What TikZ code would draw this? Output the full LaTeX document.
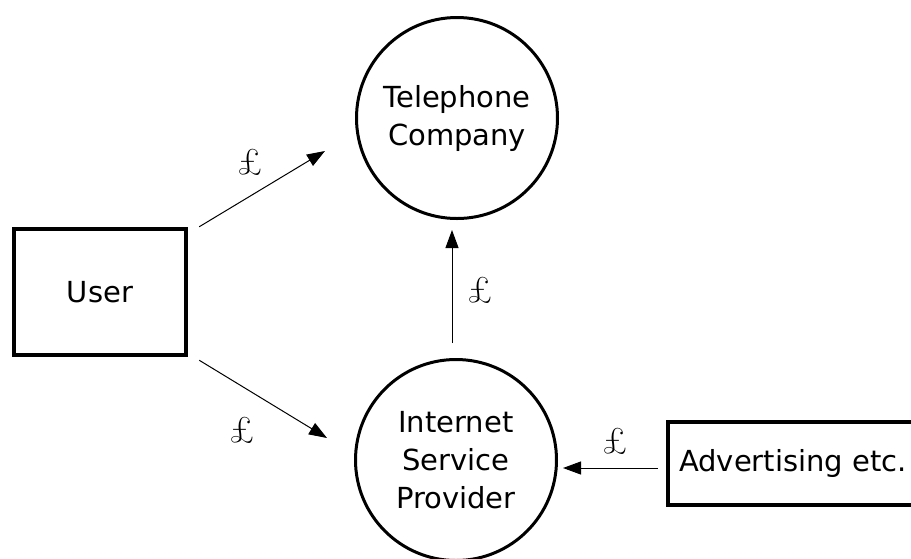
\documentclass[tikz,border=0pt]{standalone}
\usepackage{fontspec}
\setsansfont{DejaVu Sans}
\usetikzlibrary{calc,arrows.meta}
\begin{document}
\begin{tikzpicture}[x=1pt,y=-1pt,
  lbl/.style={font=\sffamily\fontsize{29}{38}\selectfont, align=center},
  ent/.style={circle, draw, line width=3pt, minimum size=201pt, inner sep=0pt, lbl},
  boxnode/.style={rectangle, draw, line width=4.5pt, inner sep=0pt, lbl},
  arr/.style={-{Triangle[length=18pt,width=13pt]}, line width=1pt},
  money/.style={font=\fontsize{37}{40}\selectfont, inner sep=0pt}]
\useasboundingbox (0,0) rectangle (911,558);
\clip (0,0) rectangle (911,558);
\node[ent] (tel) at (457,118) {Telephone\\Company};
\node[ent] (isp) at (456,460) {Internet\\Service\\Provider};
\node[boxnode, minimum width=172pt, minimum height=126pt] (user) at (100,292) {User};
\node[boxnode, minimum width=246pt, minimum height=83pt] (adv) at (791,463.5) {\hspace*{4pt}Advertising etc.};
\draw[arr] ($(user.north east)+(11,0)$) -- ($(tel.center)+(-132,33)$);
\draw[arr] ($(user.south east)+(11,3)$) -- ($(isp.center)+(-129,-22)$);
\draw[arr] ($(isp.center)+(-4,-117)$) -- ($(tel.center)+(-5,112)$);
\draw[arr] ($(adv.west)+(-8,4.5)$) -- ($(isp.center)+(107,8)$);
\node[money] (m1) at (250,162) {\textsterling};
\node[money] (m2) at (242,430) {\textsterling};
\node[money] (m3) at (480,290) {\textsterling};
\node[money] (m4) at (615,441) {\textsterling};
\end{tikzpicture}
\end{document}
